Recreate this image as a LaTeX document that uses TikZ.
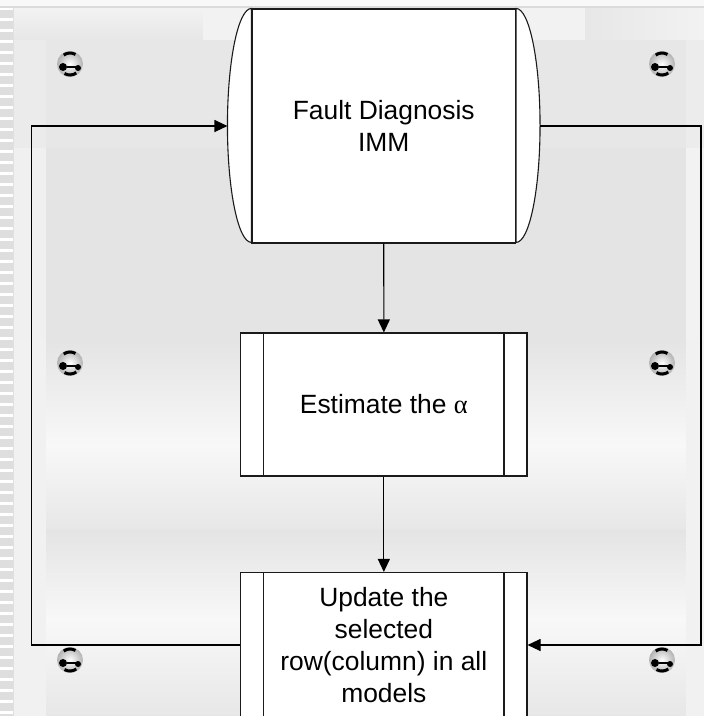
\documentclass[tikz,border=0pt]{standalone}
\usepackage{fontspec}
\setmainfont{Liberation Sans}
\newfontfamily\greekfont{Liberation Serif}
\usetikzlibrary{arrows.meta,calc}

\definecolor{bgbase}{HTML}{E8E8E8}
\definecolor{bgdark}{HTML}{E4E4E4}
\definecolor{bgmid}{HTML}{E7E7E7}
\definecolor{bglight}{HTML}{F2F2F2}
\definecolor{bgwhite}{HTML}{F8F8F8}
\definecolor{stripe}{HTML}{DEDEDE}
\definecolor{edge}{HTML}{1A1A1A}

\tikzset{
  flowbox/.style={draw=edge, line width=1.1pt, fill=white, inner sep=0pt,
    align=center, font=\fontsize{26.4}{32}\selectfont},
  arr/.style={draw=black, line width=1.1pt, -{Triangle[length=13pt,width=12pt]}},
  knob/.pic={
    \shade[inner color=white, outer color=black!30] (0,0) circle[radius=13pt];
    \draw[line width=3pt] (60:11pt) arc[start angle=60, end angle=125, radius=11pt];
    \draw[line width=3pt] (-120:11pt) arc[start angle=-120, end angle=-55, radius=11pt];
    \fill (-7pt,-3pt) circle[radius=4pt];
    \fill (8pt,-4pt) circle[radius=3pt];
    \draw[line width=1.8pt] (-3pt,-3pt) -- (8pt,-3pt);
  }
}

\begin{document}
\begin{tikzpicture}[x=1pt, y=-1pt]
  \useasboundingbox (0,0) rectangle (704,716);
  \clip (0,0) rectangle (704,716);

  % backdrop panels
  \fill[bgwhite] (0,0) rectangle (704,716);
  \fill[bgbase] (14,8) rectangle (704,716);
  \draw[black!14, line width=1.5pt] (0,7) -- (704,7);
  \shade[top color=bglight, bottom color=bgmid] (14,8) rectangle (203,40);
  \fill[bglight] (203,8) rectangle (585,40);
  \shade[left color=bgmid, right color=bglight] (585,8) rectangle (704,40);
  \fill[bgmid] (46,40) rectangle (686,148);
  \fill[bgmid!60!bglight] (14,40) rectangle (46,148);
  \fill[bgmid!50!bglight] (686,40) rectangle (704,148);
  \fill[bgdark] (46,148) rectangle (686,340);
  \fill[bglight!80!bgmid] (14,148) rectangle (46,340);
  \fill[bglight] (686,148) rectangle (704,340);
  \shade[top color=bgdark, bottom color=bgwhite] (14,340) rectangle (704,445);
  \shade[top color=bgwhite, bottom color=bgmid] (14,445) rectangle (704,530);
  \shade[top color=bgdark, bottom color=bgwhite] (14,530) rectangle (704,620);
  \shade[top color=bgwhite, bottom color=bgmid] (14,620) rectangle (704,716);
  \fill[bgwhite!60!bgbase] (14,340) rectangle (46,716);
  \fill[bgwhite!60!bgbase] (686,340) rectangle (704,716);

  % striped left edge
  \fill[white] (0,8) rectangle (13,716);
  \foreach \k in {0,...,64}
    \fill[stripe] (0,{10+11*\k}) rectangle (13,{18+11*\k});
  \draw[black!12, line width=0.8pt] (13.5,8) -- (13.5,716);

  % corner knobs
  \foreach \px/\py in {70/64, 662/64, 70/363, 662/363, 70/660, 662/660}
    \pic at (\px,\py) {knob};

  % flow boxes
  \node[flowbox, minimum width=263.5pt, minimum height=234pt] (fd) at (383.75,126)
    {Fault Diagnosis\\IMM};
  \fill[white, draw=edge, line width=1.1pt] (fd.north west)
    arc[start angle=90, end angle=270, x radius=24pt, y radius=117pt] -- cycle;
  \fill[white, draw=edge, line width=1.1pt] (fd.north east)
    arc[start angle=90, end angle=-90, x radius=24pt, y radius=117pt] -- cycle;
  \coordinate (fdL) at ($(fd.west)+(-24,0)$);
  \coordinate (fdR) at ($(fd.east)+(24,0)$);

  \node[flowbox, minimum width=286.3pt, minimum height=143pt] (est) at (383.85,404.5)
    {Estimate the {\greekfont α}};
  \draw[edge, line width=1.1pt] ([xshift=23.6pt]est.north west) -- ([xshift=23.6pt]est.south west);
  \draw[edge, line width=1.1pt] ([xshift=-23.6pt]est.north east) -- ([xshift=-23.6pt]est.south east);

  \node[flowbox, minimum width=286.3pt, minimum height=145pt] (upd) at (383.85,645)
    {Update the\\selected\\row(column) in all\\models};
  \draw[edge, line width=1.1pt] ([xshift=23.6pt]upd.north west) -- ([xshift=23.6pt]upd.south west);
  \draw[edge, line width=1.1pt] ([xshift=-23.6pt]upd.north east) -- ([xshift=-23.6pt]upd.south east);

  % connectors
  \coordinate (loopL) at (31.5,400);
  \coordinate (loopR) at (701,400);
  \draw[arr] (fd.south) -- (est.north);
  \draw[arr] (est.south) -- (upd.north);
  \draw[arr] (upd.west) -| (loopL) |- (fdL);
  \draw[arr] (fdR) -| (loopR) |- (upd.east);
\end{tikzpicture}
\end{document}
